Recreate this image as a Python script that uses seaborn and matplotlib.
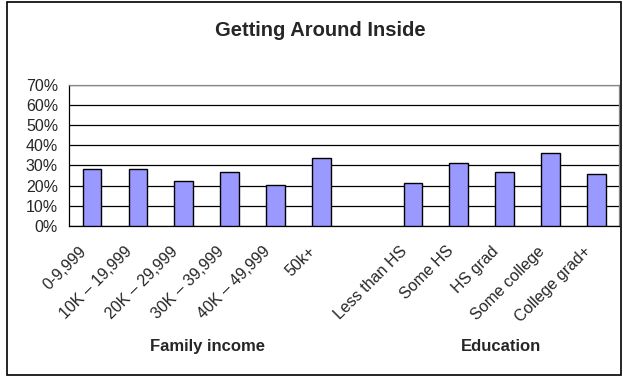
import pandas as pd
import numpy as np
import matplotlib
matplotlib.use("Agg")
import matplotlib.pyplot as plt
import matplotlib.transforms as mtransforms
from matplotlib.patches import Rectangle
import seaborn as sns

# values (share of respondents)
income_labels = ['0-9,999', '10K – 19,999', '20K – 29,999', '30K – 39,999', '40K – 49,999', '50k+']
income_values = [0.28, 0.28, 0.223, 0.267, 0.204, 0.338]
edu_labels = ['Less than HS', 'Some HS', 'HS grad', 'Some college', 'College grad+']
edu_values = [0.215, 0.311, 0.268, 0.362, 0.255]
y_ticks = [0, 0.1, 0.2, 0.3, 0.4, 0.5, 0.6, 0.7]

df = pd.DataFrame({
    'Category': income_labels + edu_labels,
    'Share': income_values + edu_values,
})
# blank slot between the two groups
order = income_labels + [' '] + edu_labels

sns.set_style('white')
plt.rcParams['font.family'] = ['Liberation Sans', 'DejaVu Sans']

fig = plt.figure(figsize=(6.23, 3.77), dpi=100)
ax = fig.add_axes([0.111, 0.401, 0.883, 0.374])

sns.barplot(data=df, x='Category', y='Share', order=order, color='#9999FF',
            saturation=1, width=0.41, edgecolor='black', linewidth=1.0, ax=ax, zorder=3)

ax.set_ylim(0, 0.7)
ax.set_xlim(-0.5, len(order) - 0.5)
ax.set_yticks(y_ticks)
ax.set_yticklabels([f'{int(round(t * 100))}%' for t in y_ticks], fontsize=11.5)
ax.grid(axis='y', color='black', linewidth=0.9, zorder=0)
ax.set_xlabel('')
ax.set_ylabel('')

# tick marks sit between the categories, Excel style
ax.set_xticks(np.arange(len(order)))
ax.set_xticklabels(order, rotation=45, ha='right', va='center',
                   rotation_mode='anchor', fontsize=11.5)
ax.tick_params(axis='x', which='major', length=0, pad=0)
shift = mtransforms.ScaledTranslation(-0.08, -0.23, fig.dpi_scale_trans)
for lab in ax.get_xticklabels():
    lab.set_transform(lab.get_transform() + shift)
ax.set_xticks(np.arange(len(order) + 1) - 0.5, minor=True)
ax.tick_params(axis='x', which='minor', length=5, width=0.9, color='black', direction='out')
ax.tick_params(axis='y', length=4, width=0.9, color='black', direction='out', pad=4)

for side in ['top', 'right']:
    ax.spines[side].set_color('#888888')
    ax.spines[side].set_linewidth(0.9)
for side in ['left', 'bottom']:
    ax.spines[side].set_color('black')
    ax.spines[side].set_linewidth(0.9)

fig.text(0.514, 0.920, 'Getting Around Inside', ha='center', va='center',
         fontsize=14.5, fontweight='bold')
fig.text(0.333, 0.080, 'Family income', ha='center', va='center', fontsize=12, fontweight='bold')
fig.text(0.804, 0.080, 'Education', ha='center', va='center', fontsize=12, fontweight='bold')

fig.patches.append(Rectangle((0.011, 0.005), 0.985, 0.99, transform=fig.transFigure,
                             fill=False, edgecolor='black', linewidth=1.2))

fig.savefig('out.png', dpi=100)
